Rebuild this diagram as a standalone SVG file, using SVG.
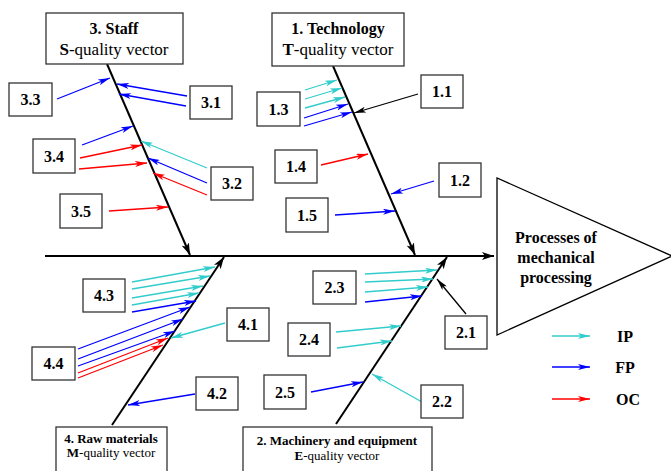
<svg xmlns="http://www.w3.org/2000/svg" width="671" height="471" viewBox="0 0 671 471">
<style>
.bx{fill:#fff;stroke:#333;stroke-width:1.3}
.lb{font-family:"Liberation Serif",serif;font-weight:bold;font-size:16px;text-anchor:middle;fill:#000}
.ti{font-family:"Liberation Serif",serif;font-size:17px;text-anchor:middle;fill:#000}
.sm{font-family:"Liberation Serif",serif;font-size:13px;text-anchor:middle;fill:#000}
.bone{stroke:#000;stroke-width:2;fill:none}
.c{stroke:#33CCCC;stroke-width:1.3;fill:none;marker-end:url(#mc)}
.b{stroke:#0000FF;stroke-width:1.3;fill:none;marker-end:url(#mb)}
.r{stroke:#FF0000;stroke-width:1.3;fill:none;marker-end:url(#mr)}
.k{stroke:#000;stroke-width:1.3;fill:none;marker-end:url(#mk)}
</style>
<defs>
<marker id="mc" viewBox="0 0 12 6" refX="12" refY="3" markerWidth="12" markerHeight="6" markerUnits="userSpaceOnUse" orient="auto"><path d="M0,0 L12,3 L0,6 L3,3 z" fill="#33CCCC"/></marker>
<marker id="mb" viewBox="0 0 12 6" refX="12" refY="3" markerWidth="12" markerHeight="6" markerUnits="userSpaceOnUse" orient="auto"><path d="M0,0 L12,3 L0,6 L3,3 z" fill="#0000FF"/></marker>
<marker id="mr" viewBox="0 0 12 6" refX="12" refY="3" markerWidth="12" markerHeight="6" markerUnits="userSpaceOnUse" orient="auto"><path d="M0,0 L12,3 L0,6 L3,3 z" fill="#FF0000"/></marker>
<marker id="mk" viewBox="0 0 12 6" refX="12" refY="3" markerWidth="12" markerHeight="6" markerUnits="userSpaceOnUse" orient="auto"><path d="M0,0 L12,3 L0,6 L3,3 z" fill="#000"/></marker>
<marker id="mK" viewBox="0 0 12 8" refX="12" refY="4" markerWidth="12" markerHeight="8" markerUnits="userSpaceOnUse" orient="auto"><path d="M0,0 L12,4 L0,8 L3,4 z" fill="#000"/></marker>
</defs>
<rect width="671" height="471" fill="#fff"/>

<g id="connectors">
<line x1="45" y1="256" x2="494" y2="256" class="bone" marker-end="url(#mK)"/>
<line x1="107" y1="64" x2="190" y2="255" class="bone" marker-end="url(#mK)"/>
<line x1="333" y1="66" x2="415" y2="255" class="bone" marker-end="url(#mK)"/>
<line x1="112" y1="425" x2="224" y2="257" class="bone" marker-end="url(#mK)"/>
<line x1="336" y1="424" x2="447" y2="257" class="bone" marker-end="url(#mK)"/>

<line x1="57" y1="99" x2="110" y2="78" class="b"/>
<line x1="187" y1="96" x2="117" y2="84" class="b"/>
<line x1="186" y1="106" x2="119" y2="94" class="b"/>
<line x1="82" y1="145" x2="133" y2="126" class="b"/>
<line x1="80" y1="158" x2="142" y2="145" class="r"/>
<line x1="79" y1="169" x2="147" y2="163" class="r"/>
<line x1="207" y1="168" x2="141" y2="141" class="c"/>
<line x1="207" y1="183" x2="148" y2="158" class="b"/>
<line x1="207" y1="195" x2="153" y2="173" class="r"/>
<line x1="109" y1="211" x2="168" y2="207" class="r"/>

<line x1="305" y1="90" x2="337" y2="80" class="c"/>
<line x1="305" y1="99" x2="342" y2="88" class="c"/>
<line x1="305" y1="108" x2="345" y2="97" class="c"/>
<line x1="304" y1="118" x2="348" y2="104" class="b"/>
<line x1="304" y1="126" x2="352" y2="112" class="b"/>
<line x1="418" y1="94" x2="354" y2="113" class="k"/>
<line x1="321" y1="165" x2="368" y2="154" class="r"/>
<line x1="434" y1="181" x2="391" y2="194" class="b"/>
<line x1="335" y1="215" x2="395" y2="211" class="b"/>

<line x1="132" y1="282" x2="215" y2="267" class="c"/>
<line x1="132" y1="289" x2="210" y2="276" class="c"/>
<line x1="132" y1="298" x2="203" y2="286" class="c"/>
<line x1="132" y1="305" x2="199" y2="293" class="c"/>
<line x1="132" y1="312" x2="196" y2="301" class="b"/>
<line x1="78" y1="349" x2="190" y2="307" class="b"/>
<line x1="78" y1="359" x2="183" y2="319" class="b"/>
<line x1="78" y1="366" x2="175" y2="331" class="b"/>
<line x1="78" y1="373" x2="168" y2="338" class="r"/>
<line x1="78" y1="378" x2="163" y2="345" class="r"/>
<line x1="225" y1="323" x2="171" y2="338" class="c"/>
<line x1="195" y1="394" x2="128" y2="405" class="b"/>

<line x1="365" y1="274" x2="437" y2="270" class="c"/>
<line x1="365" y1="282" x2="433" y2="279" class="c"/>
<line x1="365" y1="292" x2="428" y2="287" class="c"/>
<line x1="365" y1="302" x2="422" y2="296" class="b"/>
<line x1="466" y1="314" x2="437" y2="279" class="k"/>
<line x1="336" y1="332" x2="401" y2="326" class="c"/>
<line x1="337" y1="348" x2="392" y2="341" class="c"/>
<line x1="311" y1="392" x2="363" y2="382" class="b"/>
<line x1="422" y1="402" x2="372" y2="374" class="c"/>

<line x1="552" y1="336" x2="590" y2="336" class="c"/>
<line x1="552" y1="367" x2="590" y2="367" class="b"/>
<line x1="552" y1="399" x2="590" y2="399" class="r"/>
</g>

<g id="staff"><rect class="bx" x="46" y="13" width="137" height="51"/><text class="lb" x="114" y="34" font-size="17">3. Staff</text><text class="ti" x="114" y="55"><tspan font-weight="bold">S</tspan>-quality vector</text></g>
<g id="technology"><rect class="bx" x="272" y="13" width="132" height="53"/><text class="lb" x="338" y="34" font-size="17">1. Technology</text><text class="ti" x="338" y="55"><tspan font-weight="bold">T</tspan>-quality vector</text></g>
<g id="raw"><rect class="bx" x="56" y="427" width="111" height="50"/><text class="sm" x="111" y="443" font-weight="bold">4. Raw materials</text><text class="sm" x="111" y="457" font-size="11"><tspan font-weight="bold">M</tspan>-quality vector</text></g>
<g id="machinery"><rect class="bx" x="243" y="427" width="189" height="50"/><text class="sm" x="337" y="445" font-weight="bold" font-size="13.5">2. Machinery and equipment</text><text class="sm" x="337" y="460"><tspan font-weight="bold">E</tspan>-quality vector</text></g>
<g id="process"><path d="M497,178 L497,335 L672,256 Z" fill="#fff" stroke="#000" stroke-width="1.3"/><text class="lb" x="556" y="243">Processes of</text><text class="lb" x="556" y="263">mechanical</text><text class="lb" x="556" y="283">processing</text></g>

<g id="n3_3"><rect class="bx" x="9" y="83" width="43" height="33"/><text class="lb" x="30.5" y="105">3.3</text></g>
<g id="n3_1"><rect class="bx" x="190" y="86" width="42" height="33"/><text class="lb" x="211" y="108">3.1</text></g>
<g id="n3_4"><rect class="bx" x="33" y="139" width="42" height="34"/><text class="lb" x="54" y="162">3.4</text></g>
<g id="n3_2"><rect class="bx" x="211" y="167" width="42" height="33"/><text class="lb" x="232" y="189">3.2</text></g>
<g id="n3_5"><rect class="bx" x="60" y="194" width="42" height="34"/><text class="lb" x="81" y="217">3.5</text></g>
<g id="n1_1"><rect class="bx" x="421" y="75" width="42" height="33"/><text class="lb" x="442" y="97">1.1</text></g>
<g id="n1_3"><rect class="bx" x="257" y="92" width="43" height="34"/><text class="lb" x="278.5" y="115">1.3</text></g>
<g id="n1_4"><rect class="bx" x="275" y="150" width="42" height="33"/><text class="lb" x="296" y="172">1.4</text></g>
<g id="n1_2"><rect class="bx" x="439" y="163" width="42" height="34"/><text class="lb" x="460" y="186">1.2</text></g>
<g id="n1_5"><rect class="bx" x="286" y="198" width="42" height="34"/><text class="lb" x="307" y="221">1.5</text></g>
<g id="n4_3"><rect class="bx" x="83" y="279" width="42" height="33"/><text class="lb" x="104" y="301">4.3</text></g>
<g id="n4_4"><rect class="bx" x="32" y="347" width="43" height="33"/><text class="lb" x="53.5" y="369">4.4</text></g>
<g id="n4_1"><rect class="bx" x="227" y="308" width="42" height="33"/><text class="lb" x="248" y="330">4.1</text></g>
<g id="n4_2"><rect class="bx" x="196" y="377" width="42" height="33"/><text class="lb" x="217" y="399">4.2</text></g>
<g id="n2_3"><rect class="bx" x="313" y="271" width="43" height="33"/><text class="lb" x="334.5" y="293">2.3</text></g>
<g id="n2_1"><rect class="bx" x="445" y="316" width="42" height="33"/><text class="lb" x="466" y="338">2.1</text></g>
<g id="n2_4"><rect class="bx" x="288" y="323" width="42" height="33"/><text class="lb" x="309" y="345">2.4</text></g>
<g id="n2_5"><rect class="bx" x="264" y="375" width="42" height="34"/><text class="lb" x="285" y="398">2.5</text></g>
<g id="n2_2"><rect class="bx" x="421" y="385" width="42" height="33"/><text class="lb" x="442" y="407">2.2</text></g>

<g id="legend"><text class="lb" x="625" y="342">IP</text><text class="lb" x="625" y="373">FP</text><text class="lb" x="628" y="405">OC</text></g>
</svg>
